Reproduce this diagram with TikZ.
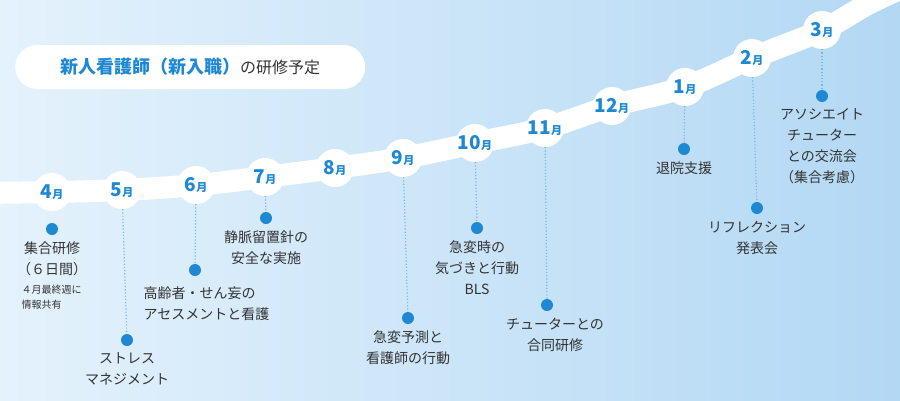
\documentclass[tikz,border=0pt]{standalone}
\usepackage{fontspec}
\setmainfont{Noto Sans CJK JP}
\usetikzlibrary{positioning}
\definecolor{mblue}{HTML}{1E88D2}
\definecolor{txt}{HTML}{333333}
\definecolor{bgl}{HTML}{E4F2FC}
\definecolor{bgr}{HTML}{B3D8F4}
\tikzset{
  month/.style={circle, fill=white, minimum size=38pt, inner sep=0pt, text=mblue, font=\bfseries\fontsize{19}{19}\selectfont},
  dot/.style={circle, fill=mblue, minimum size=12pt, inner sep=0pt},
  lbl/.style={text=txt, align=center, font=\fontsize{14}{21}\selectfont, below=3pt},
  link/.style={mblue!60, dotted, line width=1.2pt}
}
\newcommand{\mon}[1]{#1{\fontsize{11}{11}\selectfont 月}}
\begin{document}
\begin{tikzpicture}[x=1pt,y=-1pt]
  % background
  \shade[left color=bgl, right color=bgr] (0,0) rectangle (900,400);
  \useasboundingbox (0,0) rectangle (900,400);
  % band
  \draw[white, line width=22pt, line cap=round] plot[smooth, tension=0.6] coordinates
    {(-20,193) (52,192) (122,190) (196,185) (265,177) (335,168) (403,158) (475,143) (545,128) (612,106) (685,87) (752,58) (822,30) (870,3) (920,-20)};
  % title
  \node[fill=white, rounded corners=22pt, minimum width=350pt, minimum height=44pt, anchor=west, font=\fontsize{18}{18}\selectfont] (title) at (15,67)
    {\textcolor{mblue}{\bfseries 新人看護師（新入職）}\textcolor{txt}{\fontsize{16}{16}\selectfont の研修予定}};
  % months
  \node[month] (m4) at (52,192) {\mon{4}};
  \node[month] (m5) at (122,190) {\mon{5}};
  \node[month] (m6) at (196,185) {\mon{6}};
  \node[month] (m7) at (265,177) {\mon{7}};
  \node[month] (m8) at (335,168) {\mon{8}};
  \node[month] (m9) at (403,158) {\mon{9}};
  \node[month] (m10) at (475,143) {\mon{10}};
  \node[month] (m11) at (545,128) {\mon{11}};
  \node[month] (m12) at (612,106) {\mon{12}};
  \node[month] (m1) at (685,87) {\mon{1}};
  \node[month] (m2) at (752,58) {\mon{2}};
  \node[month] (m3) at (822,30) {\mon{3}};
  % dots
  \node[dot] (d4) at (52,229) {};
  \node[dot] (d5) at (127,340) {};
  \node[dot] (d6) at (195,270) {};
  \node[dot] (d7) at (266,218) {};
  \node[dot] (d9) at (408,318) {};
  \node[dot] (d10) at (477,228) {};
  \node[dot] (d11) at (547,305) {};
  \node[dot] (d1) at (684,149) {};
  \node[dot] (d2) at (757,208) {};
  \node[dot] (d3) at (822,96) {};
  % links
  \foreach \m/\d in {m5/d5,m6/d6,m7/d7,m9/d9,m10/d10,m11/d11,m1/d1,m2/d2,m3/d3}
    \draw[link] (\m) -- (\d);
  % labels
  \node[lbl] (t4) at (d4.south) {集合研修\\（６日間）};
  \node[text=txt, align=left, font=\fontsize{10}{15}\selectfont, below right=2pt and -34pt of t4.south] (n4) {４月最終週に\\情報共有};
  \node[lbl] (t5) at (d5.south) {ストレス\\マネジメント};
  \node[lbl, align=left, anchor=north west] (t6) at (140,280) {高齢者・せん妄の\\アセスメントと看護};
  \node[lbl] (t7) at (d7.south) {静脈留置針の\\安全な実施};
  \node[lbl] (t9) at (d9.south) {急変予測と\\看護師の行動};
  \node[lbl] (t10) at (d10.south) {急変時の\\気づきと行動\\BLS};
  \node[lbl, xshift=8pt] (t11) at (d11.south) {チューターとの\\合同研修};
  \node[lbl] (t1) at (d1.south) {退院支援};
  \node[lbl] (t2) at (d2.south) {リフレクション\\発表会};
  \node[lbl] (t3) at (d3.south) {アソシエイト\\チューター\\との交流会\\（集合考慮）};
\end{tikzpicture}
\end{document}
